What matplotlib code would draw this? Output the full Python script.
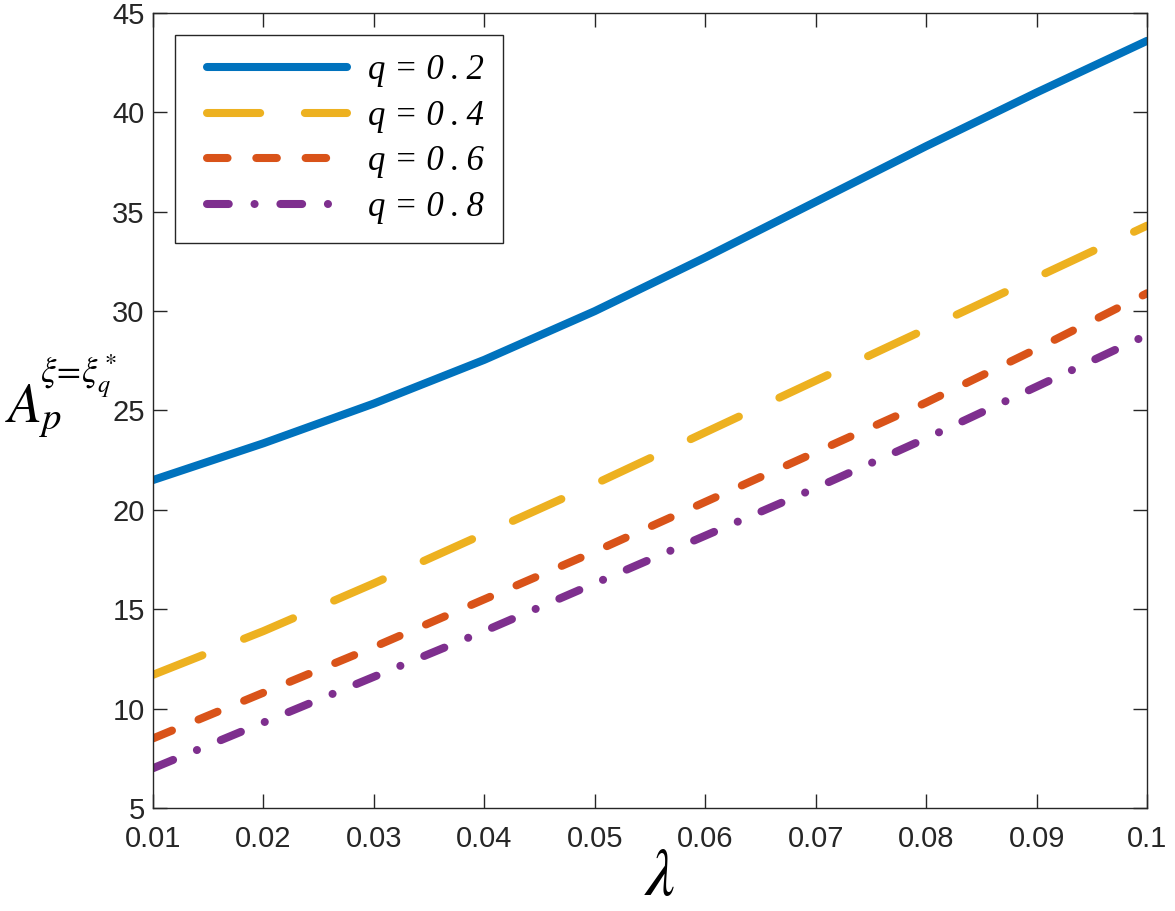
import matplotlib
matplotlib.use('Agg')
import matplotlib.pyplot as plt
from matplotlib.legend_handler import HandlerLine2D
import numpy as np

plt.rcParams['mathtext.fontset'] = 'stix'
plt.rcParams['font.family'] = ['Liberation Sans', 'DejaVu Sans']

# data
lam = [0.01, 0.02, 0.03, 0.04, 0.05, 0.06, 0.07, 0.08, 0.09, 0.10]
a_q02 = [21.5, 23.35, 25.35, 27.55, 30.0, 32.7, 35.5, 38.3, 41.0, 43.6]
a_q04 = [11.7, 13.9, 16.3, 18.8, 21.3, 23.9, 26.5, 29.1, 31.7, 34.3]
a_q06 = [8.5, 10.8, 13.1, 15.5, 17.9, 20.4, 22.9, 25.4, 28.1, 30.9]
a_q08 = [7.0, 9.3, 11.6, 13.9, 16.3, 18.7, 21.1, 23.6, 26.2, 28.8]
labels = ['q = 0\u2009.\u20092', 'q = 0\u2009.\u20094', 'q = 0\u2009.\u20096', 'q = 0\u2009.\u20098']
xticks = [0.01, 0.02, 0.03, 0.04, 0.05, 0.06, 0.07, 0.08, 0.09, 0.10]
xticklabels = ['0.01', '0.02', '0.03', '0.04', '0.05', '0.06', '0.07', '0.08', '0.09', '0.1']
yticks = [5, 10, 15, 20, 25, 30, 35, 40, 45]

colors = ['#0072BD', '#EDB120', '#D95319', '#7E2F8E']
lw = 5.8
dk = '#262626'


class ShiftedLine(HandlerLine2D):
    # push the legend sample a bit to the right, like the MATLAB legend
    def create_artists(self, *args, **kwargs):
        arts = super().create_artists(*args, **kwargs)
        for a in arts:
            x = np.asarray(a.get_xdata(), dtype=float)
            if len(x) > 1:
                x[0] += 9.4
            a.set_xdata(x)
        return arts


fig = plt.figure(figsize=(11.75, 9.11), dpi=100)
ax = fig.add_axes([0.1302, 0.1131, 0.846, 0.8726])

kw = dict(lw=lw, solid_capstyle='round', dash_capstyle='round')
ax.plot(lam, a_q02, color=colors[0], label=labels[0], **kw)
ax.plot(lam, a_q04, color=colors[1], label=labels[1], dashes=(6.6, 5.55), **kw)
ax.plot(lam, a_q06, color=colors[2], label=labels[2], dashes=(2.55, 3.57), **kw)
ax.plot(lam, a_q08, color=colors[3], label=labels[3], dashes=(2.7, 3.2, 0.01, 3.2), **kw)

ax.set_xlim(0.01, 0.1)
ax.set_ylim(5, 45)
ax.set_xticks(xticks)
ax.set_xticklabels(xticklabels)
ax.set_yticks(yticks)
ax.tick_params(direction='in', length=10, width=1, colors=dk, labelsize=21,
               top=True, right=True)
ax.tick_params(axis='x', pad=12)
ax.tick_params(axis='y', pad=6)
for s in ax.spines.values():
    s.set_color(dk)
    s.set_linewidth(1)

ax.set_xlabel(r'$\lambda$', fontsize=48, color='black')
ax.xaxis.set_label_coords(0.51, -0.049)
ax.xaxis.label.set_va('top')

ax.set_ylabel(r'$A_p$', fontsize=40, rotation=0, color='black')
ax.yaxis.label.set_ha('left')
ax.yaxis.label.set_va('baseline')
ax.yaxis.set_label_coords(-0.149, 0.4855)
fig.text(40 / 1175, 1 - 383 / 911, r'$\xi\!=\!\xi_q^*$', fontsize=25,
         ha='left', va='baseline')

leg = ax.legend(loc='upper left', bbox_to_anchor=(0.022, 0.972), borderaxespad=0,
                prop={'family': ['Liberation Serif', 'DejaVu Serif'], 'style': 'italic', 'size': 25},
                handler_map={plt.Line2D: ShiftedLine()},
                handlelength=4.41, handletextpad=0.6, labelspacing=0.36,
                borderpad=0.55, fancybox=False, framealpha=1, edgecolor=dk)
leg.get_frame().set_linewidth(1)

fig.savefig('out.png', dpi=100)
